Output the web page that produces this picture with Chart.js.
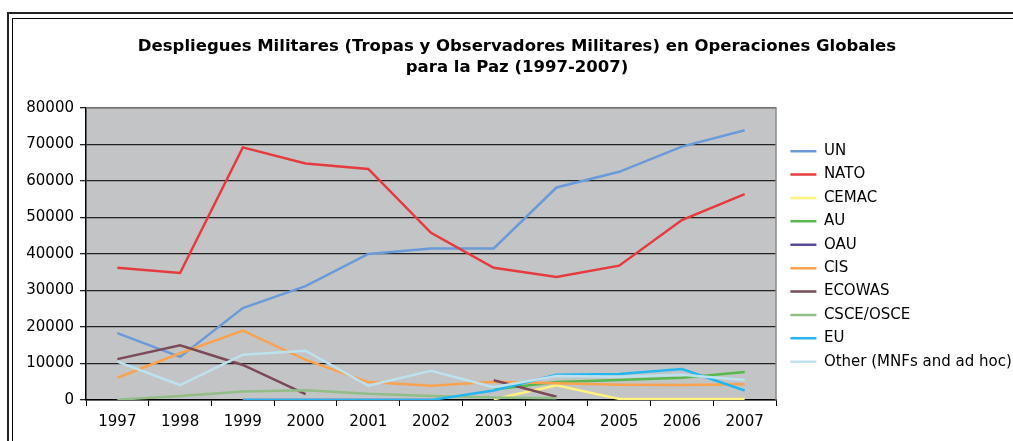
<!DOCTYPE html>
<html>
<head>
<meta charset="utf-8">
<script src="https://cdn.jsdelivr.net/npm/chart.js@4.4.1/dist/chart.umd.min.js"></script>
<style>
  html, body { margin: 0; padding: 0; background: #fff; overflow: hidden; }
  #wrap { position: relative; width: 1013px; height: 441px; overflow: hidden; }
  canvas { position: absolute; left: 0; top: 0; }
  .frame { position: absolute; width: 1200px; height: 600px; pointer-events: none; }
  #frameOuter { left: 7px; top: 12px; border-left: 2px solid #222; border-top: 2px solid #222; }
  #frameInner { left: 12px; top: 18px; border-left: 1px solid #000; border-top: 1px solid #000; }
</style>
</head>
<body>
<div id="wrap">
  <canvas id="chart" width="1013" height="441"></canvas>
  <div class="frame" id="frameOuter"></div>
  <div class="frame" id="frameInner"></div>
</div>
<script>
// Datos (1997-2007)
const years = ['1997', '1998', '1999', '2000', '2001', '2002', '2003', '2004', '2005', '2006', '2007'];
const seriesNames = ['UN', 'NATO', 'CEMAC', 'AU', 'OAU', 'CIS', 'ECOWAS', 'CSCE/OSCE', 'EU', 'Other (MNFs and ad hoc)'];

const un     = [18300, 11800, 25200, 31200, 40000, 41500, 41500, 58200, 62500, 69400, 73900];
const nato   = [36200, 34800, 69200, 64800, 63300, 45800, 36200, 33700, 36800, 49300, 56400];
const cemac  = [null, null, null, null, null, null, 200, 4000, 300, 300, 300];
const au     = [null, null, null, null, null, null, 2900, 4900, 5500, 6100, 7700];
const oau    = [null, null, 0, 0, 0, 0, null, null, null, null, null];
const cis    = [6100, 12800, 19000, 11000, 4900, 3900, 5000, 4600, 4200, 4100, 4300];
const ecowas = [11200, 15000, 9600, 1600, null, null, 5400, 900, null, null, null];
const csce   = [100, 1100, 2300, 2700, 1700, 1100, 700, 500, null, null, null];
const eu     = [null, null, 0, 0, 0, 0, 2600, 6900, 7100, 8500, 2600];
const other  = [10500, 4100, 12400, 13500, 3900, 8000, 3500, 6600, 6400, 6900, 5500];

const yTicks = [0, 10000, 20000, 30000, 40000, 50000, 60000, 70000, 80000];

const seriesData = [un, nato, cemac, au, oau, cis, ecowas, csce, eu, other];
const seriesColors = ['#6a9bd8', '#e63b3e', '#fff27f', '#58b84e', '#5b4a99', '#f9a350', '#7b4a57', '#92bd86', '#24b7ef', '#bde2ee'];

const font = 'DejaVu Sans';

// Fondo gris del área de trazado y ajustes de posición
const plotArea = {
    id: 'plotArea',
    afterLayout(chart) {
        chart.legend.left += 6;
        chart.legend.right += 6;
        chart.legend.top += 2.5;
        chart.legend.bottom += 2.5;
    },
    beforeDraw(chart) {
        const { ctx, chartArea: a } = chart;
        ctx.save();
        ctx.fillStyle = '#c3c4c6';
        ctx.fillRect(a.left, a.top, a.width, a.height);
        ctx.restore();
    },
    afterDraw(chart) {
        const { ctx, chartArea: a } = chart;
        ctx.save();
        ctx.strokeStyle = '#8a8a8a';
        ctx.lineWidth = 1.5;
        ctx.beginPath();
        ctx.moveTo(a.left, a.top);
        ctx.lineTo(a.right, a.top);
        ctx.lineTo(a.right, a.bottom);
        ctx.stroke();
        ctx.restore();
    }
};

const datasets = seriesNames.map((name, i) => ({
    label: name,
    data: seriesData[i],
    borderColor: seriesColors[i],
    backgroundColor: seriesColors[i],
    borderWidth: 2.5,
    pointRadius: 0,
    tension: 0,
    spanGaps: false,
    order: seriesNames.length - i
}));

new Chart(document.getElementById('chart').getContext('2d'), {
    type: 'line',
    data: { labels: years, datasets: datasets },
    plugins: [plotArea],
    options: {
        responsive: false,
        animation: false,
        layout: { padding: { left: 21, right: 0, top: 0, bottom: 0 } },
        plugins: {
            tooltip: { enabled: false },
            title: {
                display: true,
                text: ['Despliegues Militares (Tropas y Observadores Militares) en Operaciones Globales', 'para la Paz (1997-2007)'],
                color: '#000',
                font: { family: font, size: 16.5, weight: 'bold', lineHeight: 1.27 },
                padding: { top: 36, bottom: 30 }
            },
            legend: {
                position: 'right',
                fullSize: false,
                maxWidth: 237,
                labels: {
                    color: '#000',
                    font: { family: font, size: 15 },
                    usePointStyle: true,
                    pointStyle: 'line',
                    pointStyleWidth: 26,
                    padding: 8.4,
                    sort: (a, b) => a.datasetIndex - b.datasetIndex
                }
            }
        },
        scales: {
            x: {
                offset: true,
                grid: { offset: true, drawOnChartArea: false, tickLength: 6, color: '#000', lineWidth: 1 },
                border: { color: '#000', width: 1.5 },
                ticks: { color: '#000', font: { family: font, size: 15 }, padding: 7, maxRotation: 0 },
                afterFit(scale) { scale.height = 41; }
            },
            y: {
                min: 0,
                max: 80000,
                afterBuildTicks(scale) { scale.ticks = yTicks.map(v => ({ value: v })); },
                grid: { color: '#222', lineWidth: 1.3, tickLength: 6 },
                border: { color: '#000', width: 1.5 },
                ticks: { color: '#000', font: { family: font, size: 15 }, padding: 6, callback: v => String(v) },
                afterFit(scale) { scale.width = 65; }
            }
        }
    }
});
</script>
</body>
</html>
